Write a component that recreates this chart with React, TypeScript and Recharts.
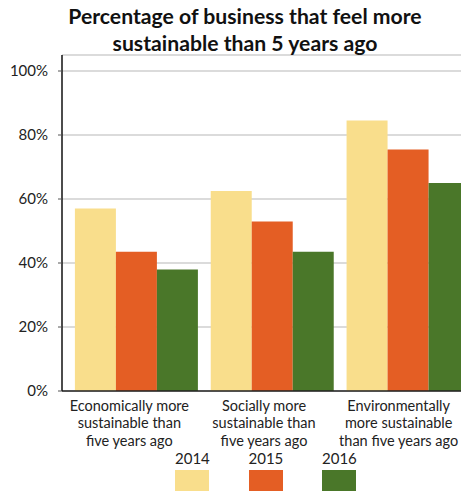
import React from 'react';
import { BarChart, Bar, XAxis, YAxis, CartesianGrid, Legend } from 'recharts';

const categories = [
  'Economically more sustainable than five years ago',
  'Socially more sustainable than five years ago',
  'Environmentally more sustainable than five years ago',
];
const categoryLines = [
  ['Economically more', 'sustainable than', 'five years ago'],
  ['Socially more', 'sustainable than', 'five years ago'],
  ['Environmentally', 'more sustainable', 'than five years ago'],
];
const years = ['2014', '2015', '2016'];
const values2014 = [57, 62.5, 84.5];
const values2015 = [43.5, 53, 75.5];
const values2016 = [38, 43.5, 65];
const yTicks = [0, 20, 40, 60, 80, 100];
const colors = ['#F9DE8C', '#E45E24', '#4A7729'];
const titleLines = ['Percentage of business that feel more', 'sustainable than 5 years ago'];

const seriesValues = [values2014, values2015, values2016];
const data = categories.map((c, i) => {
  const row: Record<string, string | number> = { category: c };
  years.forEach((y, j) => {
    row[y] = seriesValues[j][i];
  });
  return row;
});

const FONT = 'Lato, "Open Sans", sans-serif';

const CategoryTick = (props: any) => {
  const { x, y, payload } = props;
  const idx = categories.indexOf(payload.value);
  const lines = categoryLines[idx] || [String(payload.value)];
  return (
    <text x={x} y={y} textAnchor="middle" fill="#222" fontSize={14.5} fontFamily={FONT}>
      {lines.map((l, i) => (
        <tspan key={i} x={x} dy={i === 0 ? 19.5 : 17.5}>
          {l}
        </tspan>
      ))}
    </text>
  );
};

const LegendContent = (props: any) => {
  const { payload } = props;
  return (
    <div style={{ display: 'flex', fontFamily: FONT }}>
      {(payload || []).map((entry: any, i: number) => (
        <div key={i} style={{ width: 34, marginRight: i < 2 ? 39.5 : 0 }}>
          <div style={{ fontSize: 15, lineHeight: '18px', color: '#222', whiteSpace: 'nowrap' }}>{entry.value}</div>
          <div style={{ width: 34, height: 26, marginTop: 3, background: entry.color }} />
        </div>
      ))}
    </div>
  );
};

export default function App() {
  return (
    <div style={{ position: 'relative', width: 461, height: 483 }}>
      <div
        style={{
          position: 'absolute',
          left: 0,
          top: -5,
          width: 474,
          textAlign: 'center',
          fontFamily: FONT,
          fontWeight: 700,
          fontSize: 21.2,
          lineHeight: '27px',
          color: '#111',
          zIndex: 2,
        }}
      >
        {titleLines.map((t, i) => (
          <div key={i}>{t}</div>
        ))}
      </div>
      <BarChart
        width={461}
        height={483}
        data={data}
        margin={{ top: 47, right: 3, bottom: 40, left: 0 }}
        barCategoryGap={6.4}
        barGap={0}
      >
        <CartesianGrid vertical={false} stroke="#cfcfcf" strokeWidth={1.5} />
        <XAxis xAxisId="bars" dataKey="category" hide height={0} padding={{ left: 6.5, right: -10 }} />
        <XAxis
          xAxisId="labels"
          dataKey="category"
          height={60}
          axisLine={{ stroke: '#222', strokeWidth: 1.5 }}
          tickLine={false}
          tickSize={0}
          tickMargin={0}
          interval={0}
          tick={<CategoryTick />}
        />
        <YAxis
          width={54}
          domain={[0, 105]}
          ticks={yTicks}
          allowDataOverflow
          tickFormatter={(v: number) => `${v}%`}
          axisLine={{ stroke: '#111', strokeWidth: 1.5 }}
          tickLine={{ stroke: '#555' }}
          tickSize={4}
          tickMargin={10}
          tick={{ fill: '#222', fontSize: 15, fontFamily: FONT }}
        />
        <Legend
          verticalAlign="middle"
          align="center"
          layout="horizontal"
          wrapperStyle={{ top: 441, left: 167, width: 240, height: 50 }}
          content={<LegendContent />}
        />
        {years.map((y, j) => (
          <Bar key={y} xAxisId="bars" dataKey={y} name={y} fill={colors[j]} isAnimationActive={false} />
        ))}
      </BarChart>
    </div>
  );
}
